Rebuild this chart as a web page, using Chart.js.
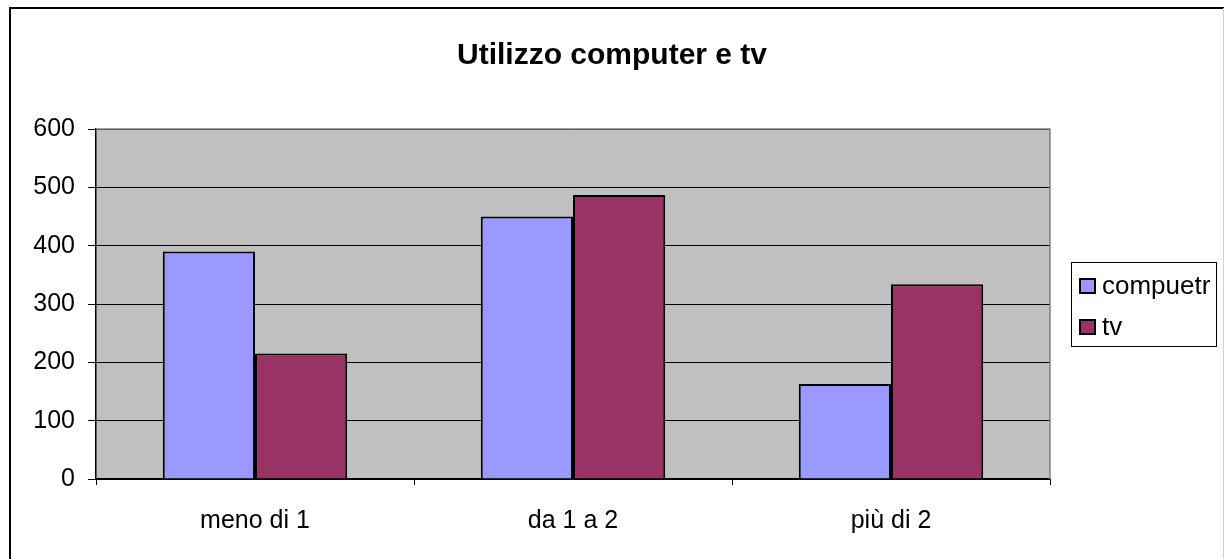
<!DOCTYPE html>
<html>
<head>
<meta charset="utf-8">
<script src="https://cdn.jsdelivr.net/npm/chart.js@4/dist/chart.umd.min.js"></script>
<style>
  html, body { margin: 0; padding: 0; background: #fff; }
  canvas { display: block; }
</style>
</head>
<body>
<canvas id="myChart" width="1224" height="559"></canvas>
<script>
const categories = ['meno di 1', 'da 1 a 2', 'più di 2'];
const computerValues = [390, 450, 163];
const tvValues = [215, 487, 334];
const seriesNames = ['compuetr', 'tv'];
const yMin = 0;
const yMax = 600;
const yStep = 100;

const fontFamily = '"Liberation Sans", Arial, sans-serif';

const frame = {
    id: 'frame',
    beforeDraw: (chart) => {
        const ctx = chart.ctx;
        const a = chart.chartArea;
        ctx.save();
        ctx.fillStyle = 'white';
        ctx.fillRect(0, 0, chart.width, chart.height);
        ctx.fillStyle = '#c0c0c0';
        ctx.fillRect(a.left, a.top, a.right - a.left, a.bottom - a.top);
        ctx.restore();
    },
    afterDraw: (chart) => {
        const ctx = chart.ctx;
        const a = chart.chartArea;
        ctx.save();
        // plot area border top/right
        ctx.strokeStyle = '#808080';
        ctx.lineWidth = 1.5;
        ctx.beginPath();
        ctx.moveTo(a.left, a.top);
        ctx.lineTo(a.right, a.top);
        ctx.lineTo(a.right, a.bottom);
        ctx.stroke();
        // outer chart border
        ctx.strokeStyle = '#000';
        ctx.lineWidth = 2;
        ctx.beginPath();
        ctx.moveTo(10, chart.height);
        ctx.lineTo(10, 8);
        ctx.lineTo(chart.width, 8);
        ctx.stroke();
        ctx.strokeStyle = '#d0d0d0';
        ctx.lineWidth = 1;
        ctx.beginPath();
        ctx.moveTo(1223.5, 8);
        ctx.lineTo(1223.5, chart.height);
        ctx.stroke();
        // legend box
        ctx.strokeStyle = '#000';
        ctx.lineWidth = 1;
        ctx.strokeRect(1071.5, 262.5, 145, 84);
        ctx.font = '26px ' + fontFamily;
        ctx.textBaseline = 'middle';
        const ys = [286, 327];
        chart.data.datasets.forEach((ds, i) => {
            ctx.fillStyle = ds.backgroundColor;
            ctx.fillRect(1080, ys[i] - 7, 15, 14);
            ctx.lineWidth = 2;
            ctx.strokeRect(1080, ys[i] - 7, 15, 14);
            ctx.fillStyle = '#000';
            ctx.fillText(ds.label, 1102, ys[i] + 1);
        });
        ctx.restore();
    }
};

const ctx = document.getElementById('myChart').getContext('2d');
const myChart = new Chart(ctx, {
    type: 'bar',
    plugins: [frame],
    data: {
        labels: categories,
        datasets: [{
            label: seriesNames[0],
            data: computerValues,
            backgroundColor: '#9999ff',
            borderColor: '#000',
            borderWidth: 2
        }, {
            label: seriesNames[1],
            data: tvValues,
            backgroundColor: '#993366',
            borderColor: '#000',
            borderWidth: 2
        }]
    },
    options: {
        responsive: false,
        animation: false,
        categoryPercentage: 0.58,
        barPercentage: 1,
        layout: {
            padding: { left: 0, right: 0, top: 0, bottom: 2 }
        },
        plugins: {
            legend: { display: false },
            tooltip: { enabled: false },
            title: {
                display: true,
                text: 'Utilizzo computer e tv',
                color: '#000',
                font: { family: fontFamily, size: 30, weight: 'bold' },
                padding: { top: 38, bottom: 55 }
            }
        },
        scales: {
            x: {
                grid: {
                    offset: true,
                    drawOnChartArea: false,
                    color: '#000',
                    tickLength: 6
                },
                border: { color: '#000', width: 1.5 },
                ticks: {
                    color: '#000',
                    padding: 21,
                    font: { family: fontFamily, size: 25 }
                }
            },
            y: {
                min: yMin,
                max: yMax,
                afterFit: (scale) => { scale.width = 96; },
                grid: {
                    color: '#000',
                    tickLength: 8
                },
                border: { color: '#000', width: 1.5 },
                ticks: {
                    stepSize: yStep,
                    color: '#000',
                    padding: 13,
                    font: { family: fontFamily, size: 25 }
                }
            },
            legendSpace: {
                type: 'linear',
                position: 'right',
                afterFit: (scale) => { scale.width = 174; },
                grid: { display: false },
                border: { display: false },
                ticks: { display: false }
            }
        }
    }
});
</script>
</body>
</html>
